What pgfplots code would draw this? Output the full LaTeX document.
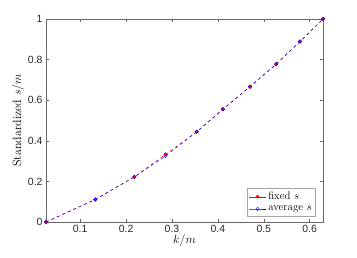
\documentclass[border=0pt]{standalone}
\usepackage{fontspec}
\usepackage{pgfplots}
\pgfplotsset{compat=1.18}
\newfontfamily\hel{Liberation Sans}
\begin{document}
\begin{tikzpicture}
\begin{axis}[
  scale only axis,
  width=277bp, height=203bp,
  xmin=0.0256, xmax=0.629,
  ymin=0, ymax=1,
  xtick={0.1,0.2,0.3,0.4,0.5,0.6},
  ytick={0,0.2,0.4,0.6,0.8,1},
  yticklabels={0,0.2,0.4,0.6,0.8,1},
  xticklabels={0.1,0.2,0.3,0.4,0.5,0.6},
  tick align=inside,
  major tick length=3bp,
  axis line style={gray!80!black, line width=0.5pt},
  every tick/.style={gray!80!black, line width=0.4pt},
  tick label style={font=\hel\fontsize{10.5}{12}\selectfont, text=black!85},
  /pgf/number format/assume math mode=true,
  xlabel={$k/m$},
  ylabel={Standardized $s/m$},
  label style={font=\fontsize{12}{14}\selectfont},
  xlabel style={yshift=5bp},
  ylabel style={yshift=-3bp},
  legend style={font=\fontsize{11}{13}\selectfont, draw=gray!70, line width=0.4pt, inner sep=1.5pt, row sep=0.5pt, anchor=south east, at={(0.973,0.03)}},
  legend image post style={solid, line width=0.3pt},
  legend cell align=left,
  clip=false,
]
\addplot[red, dashed, line width=0.5pt, mark=*, mark size=1.6pt, mark options={solid, fill=red}]
 coordinates {(0.0256,0) (0.133,0.1111) (0.218,0.2222) (0.286,0.3333) (0.354,0.4444) (0.411,0.5556) (0.470,0.6667) (0.527,0.7778) (0.579,0.8889) (0.629,1)};
\addlegendentry{fixed $s$}
\addplot[blue, dashed, line width=0.5pt, mark=o, mark size=1.8pt, mark options={solid}]
 coordinates {(0.0256,0) (0.133,0.1111) (0.218,0.2222) (0.286,0.325) (0.354,0.4444) (0.411,0.5556) (0.470,0.6667) (0.527,0.7778) (0.579,0.8889) (0.629,1)};
\addlegendentry{average $s$}
\end{axis}
\path[use as bounding box] ([shift={(-46bp,-36bp)}]current axis.south west) rectangle ([shift={(34bp,19bp)}]current axis.north east);
\end{tikzpicture}
\end{document}
